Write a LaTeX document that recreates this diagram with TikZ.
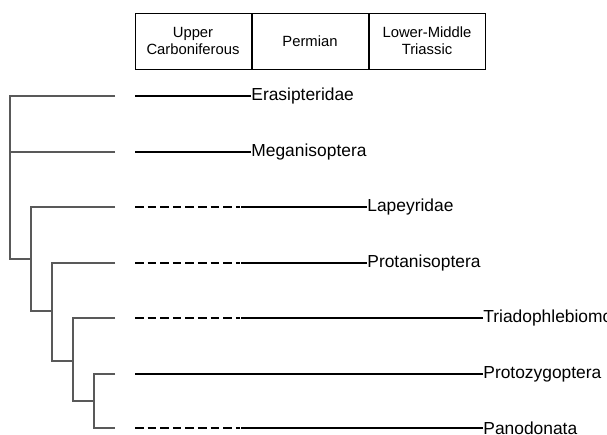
\documentclass[tikz,border=0pt]{standalone}
\usepackage{fontspec}
\setmainfont{Liberation Sans}
\usetikzlibrary{positioning}
\begin{document}
\begin{tikzpicture}[x=0.5pt, y=-0.5pt,
    branch/.style={draw=black!65, line width=0.6pt},
    fossil/.style={line width=1.3pt},
    ghost/.style={line width=1.3pt, dash pattern=on 4.3pt off 2pt},
    taxon/.style={anchor=west, inner sep=0pt, font=\fontsize{8.7}{10}\selectfont},
    period/.style={draw, line width=0.5pt, minimum width=58pt, minimum height=28pt, align=center, inner sep=0pt, font=\fontsize{7.4}{8.4}\selectfont}]
    \useasboundingbox (0,0) rectangle (607,435);
    \clip (0,0) rectangle (607,435);
    % time scale
    \node[period] (carb) at (193,41) {Upper\\Carboniferous};
    \node[period, right=0pt of carb] (perm) {Permian};
    \node[period, right=0pt of perm] (tria) {Lower-Middle\\Triassic};
    % tips of the tree
    \coordinate (tEra) at (115,96);  \coordinate (tMeg) at (115,152);
    \coordinate (tLap) at (115,207); \coordinate (tPra) at (115,263);
    \coordinate (tTri) at (115,318); \coordinate (tPro) at (115,374);
    \coordinate (tPan) at (115,428);
    % inner nodes
    \coordinate (n1) at (10,259); \coordinate (n2) at (31,259);
    \coordinate (n3) at (52,311); \coordinate (n4) at (73,361);
    \coordinate (n5) at (94,401);
    \draw[branch] (tEra) -| (n1) -- (n2);
    \draw[branch] (tMeg) -- (tMeg -| n1);
    \draw[branch] (tLap) -| (n2) |- (n3);
    \draw[branch] (tPra) -| (n3) |- (n4);
    \draw[branch] (tTri) -| (n4) |- (n5);
    \draw[branch] (tPro) -| (n5) |- (tPan);
    % ranges
    \node[taxon] (era) at (251,96)  {Erasipteridae};
    \node[taxon] (meg) at (251,152) {Meganisoptera};
    \node[taxon] (lap) at (367,207) {Lapeyridae};
    \node[taxon] (pra) at (367,263) {Protanisoptera};
    \node[taxon] (tri) at (483,318) {Triadophlebiomorpha};
    \node[taxon] (pro) at (483,374) {Protozygoptera};
    \node[taxon] (pan) at (483,428) {Panodonata};
    \draw[fossil] (135,96) -- (era.west);
    \draw[fossil] (135,152) -- (meg.west);
    \draw[ghost] (135,207) -- (240,207); \draw[fossil] (241,207) -- (lap.west);
    \draw[ghost] (135,263) -- (240,263); \draw[fossil] (241,263) -- (pra.west);
    \draw[ghost] (135,318) -- (240,318); \draw[fossil] (241,318) -- (tri.west);
    \draw[fossil] (135,374) -- (pro.west);
    \draw[ghost] (135,428) -- (240,428); \draw[fossil] (241,428) -- (pan.west);
\end{tikzpicture}
\end{document}
